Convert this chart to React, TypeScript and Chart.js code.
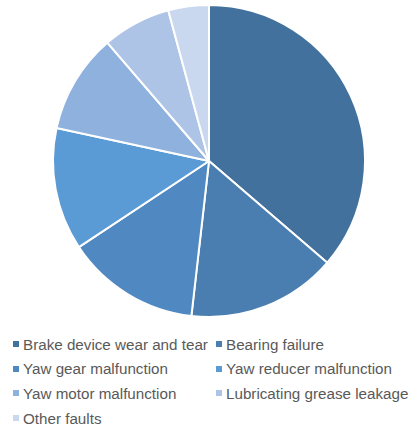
import React, { useEffect, useRef } from "react";
import { Chart, registerables } from "chart.js";

Chart.register(...registerables);

const categories = [
  "Brake device wear and tear",
  "Bearing failure",
  "Yaw gear malfunction",
  "Yaw reducer malfunction",
  "Yaw motor malfunction",
  "Lubricating grease leakage",
  "Other faults",
];
const values = [36.3, 15.5, 13.9, 12.7, 10.3, 7.1, 4.2];
const colors = ["#41719C", "#4A7EB1", "#5089C1", "#5B9BD5", "#8EB1DD", "#AEC4E6", "#C9D8EE"];

export default function App() {
  const ref = useRef<HTMLCanvasElement | null>(null);
  useEffect(() => {
    document.body.style.margin = "0";
    const chart = new Chart(ref.current!, {
      type: "pie",
      data: {
        labels: categories,
        datasets: [
          {
            data: values,
            backgroundColor: colors,
            borderColor: "#ffffff",
            borderWidth: 2,
          },
        ],
      },
      options: {
        animation: false,
        responsive: false,
        layout: { padding: { top: 4, bottom: 4, left: 9, right: 0 } },
        plugins: { legend: { display: false }, tooltip: { enabled: false } },
      },
    });
    return () => chart.destroy();
  }, []);

  return (
    <div style={{ position: "relative", width: 409, height: 428, background: "#fff", fontFamily: "'Liberation Sans', Arial, sans-serif" }}>
      <canvas ref={ref} width={409} height={322} style={{ position: "absolute", left: 0, top: 0, width: 409, height: 322 }} />
      {categories.map((c, i) => {
        const col = i % 2;
        const row = Math.floor(i / 2);
        const left = col === 0 ? 13 : 216;
        const top = 344 + row * 24.7;
        return (
          <div key={c} style={{ position: "absolute", left, top: top - 9, height: 18, display: "flex", alignItems: "center", whiteSpace: "nowrap" }}>
            <span style={{ display: "inline-block", width: 6, height: 6, background: colors[i], marginRight: 4 }} />
            <span style={{ fontSize: 15.2, color: "#595959" }}>{c}</span>
          </div>
        );
      })}
    </div>
  );
}
